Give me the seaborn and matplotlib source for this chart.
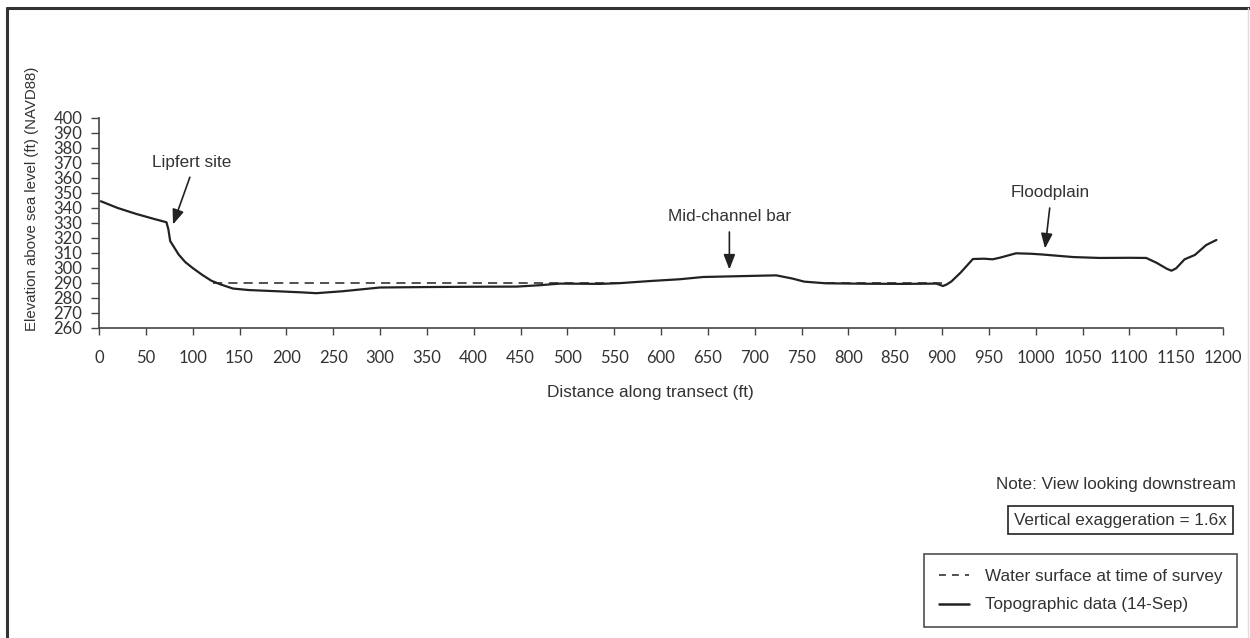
import seaborn as sns
import matplotlib.pyplot as plt
from matplotlib.lines import Line2D
import pandas as pd

# topographic survey (14-Sep), distance along transect (ft) / elevation (ft NAVD88)
topo_dist = [2, 20, 40, 60, 72, 74, 76, 80, 85, 92, 100, 110, 120, 130, 143, 160, 190, 215, 232,
             260, 300, 350, 400, 446, 470, 492, 535, 556, 588, 620, 645, 680, 723, 740, 753, 776,
             820, 860, 894, 901, 905, 910, 920, 933, 945, 954, 962, 979, 995, 1007, 1040, 1068,
             1100, 1118, 1129, 1140, 1145, 1150, 1159, 1170, 1182, 1193]
topo_elev = [344.5, 340, 336, 332.5, 330.5, 326, 318, 314, 309, 304, 300, 295.5, 291.5, 289, 286.3,
             285.3, 284.5, 283.8, 283.2, 284.5, 287, 287.3, 287.5, 287.6, 288.5, 289.6, 289.4, 289.9,
             291.3, 292.5, 294, 294.5, 295.1, 293, 290.9, 289.8, 289.5, 289.4, 289.6, 288, 289, 291,
             297, 306, 306.2, 305.8, 306.9, 309.8, 309.5, 309, 307.3, 306.7, 306.8, 306.7, 303.5,
             299.5, 298.2, 299.8, 305.8, 308.7, 315.3, 318.7]

# water surface at time of survey, two wetted reaches
water_dist = [122, 555, 776, 900]
water_elev = [290, 290, 290, 290]
water_seg = ['a', 'a', 'b', 'b']

x_ticks = list(range(0, 1201, 50))
y_ticks = list(range(260, 401, 10))

topo = pd.DataFrame({'dist': topo_dist, 'elev': topo_elev})
water = pd.DataFrame({'dist': water_dist, 'elev': water_elev, 'seg': water_seg})

sns.set_style('ticks')
plt.rcParams['font.family'] = ['Liberation Sans', 'DejaVu Sans']
txt = '#333333'
ink = '#222222'
fs = 12.3

fig = plt.figure(figsize=(12.5, 6.38), dpi=100)
ax = fig.add_axes([99 / 1250, 1 - 328 / 638, 1124 / 1250, 210 / 638])

sns.lineplot(data=water, x='dist', y='elev', units='seg', estimator=None, sort=False,
             color=ink, lw=1.1, linestyle=(0, (6, 4)), ax=ax)
sns.lineplot(data=topo, x='dist', y='elev', estimator=None, sort=False,
             color=ink, lw=1.6, ax=ax)

ax.set_xlim(0, 1200)
ax.set_ylim(260, 400)
ax.set_xticks(x_ticks)
ax.set_yticks(y_ticks)
for lab in ax.get_xticklabels() + ax.get_yticklabels():
    lab.set_fontfamily('Lato')
    lab.set_fontsize(12)
    lab.set_color(txt)
ax.tick_params(axis='x', length=5, width=1, color='#444444', pad=11)
ax.tick_params(axis='y', length=6, width=1, color='#444444', pad=6)
sns.despine(ax=ax)
for s in ('left', 'bottom'):
    ax.spines[s].set_color('#444444')
    ax.spines[s].set_linewidth(1.2)

ax.set_xlabel('Distance along transect (ft)', fontsize=12.4, color=txt)
ax.set_ylabel('Elevation above sea level (ft) (NAVD88)', fontsize=10.8, color=txt)
ax.xaxis.label.set_va('center')
ax.yaxis.label.set_va('center')
ax.xaxis.set_label_coords((650 - 99) / 1124, (328 - 393) / 210)
ax.yaxis.set_label_coords((32 - 99) / 1124, (328 - 199) / 210)

arrow = dict(arrowstyle='-|>,head_length=0.9,head_width=0.35', color=ink, lw=1.2,
             shrinkA=0, shrinkB=0)
ax.text(99, 370.5, 'Lipfert site', fontsize=fs, color=txt, ha='center', va='center')
ax.annotate('', xy=(79, 329), xytext=(97, 360.5), arrowprops=arrow)
ax.text(673, 334.5, 'Mid-channel bar', fontsize=fs, color=txt, ha='center', va='center')
ax.annotate('', xy=(673, 299), xytext=(673, 324), arrowprops=arrow)
ax.text(1015, 350, 'Floodplain', fontsize=fs, color=txt, ha='center', va='center')
ax.annotate('', xy=(1010, 313), xytext=(1015, 340), arrowprops=arrow)

fig.text(1236 / 1250, 1 - 485 / 638, 'Note: View looking downstream', fontsize=fs,
         color=txt, ha='right', va='center')
fig.text(1227 / 1250, 1 - 520 / 638, 'Vertical exaggeration = 1.6x', fontsize=fs,
         color=txt, ha='right', va='center',
         bbox=dict(boxstyle='square,pad=0.38', fc='white', ec=ink, lw=1.2))

handles = [Line2D([], [], color=ink, lw=1.1, linestyle=(0, (4.5, 4))),
           Line2D([], [], color=ink, lw=1.8)]
leg = fig.legend(handles, ['Water surface at time of survey', 'Topographic data (14-Sep)'],
                 loc='lower right', bbox_to_anchor=(1237 / 1250, 1 - 627 / 638),
                 fontsize=fs, frameon=True, fancybox=False, handlelength=1.8,
                 handletextpad=0.9, borderpad=0.85, labelspacing=0.8, borderaxespad=0)
leg.get_frame().set_edgecolor(ink)
leg.get_frame().set_linewidth(1.2)
for t in leg.get_texts():
    t.set_color(txt)

# page frame
for xs, ys, c, w in [([7, 1250], [8, 8], '#333333', 2.2),
                     ([7, 7], [8, 638], '#333333', 2.2),
                     ([1248, 1248], [8, 638], '#dddddd', 1.0)]:
    fig.add_artist(Line2D([x / 1250 for x in xs], [1 - y / 638 for y in ys],
                          transform=fig.transFigure, color=c, lw=w))

fig.savefig('out.png', dpi=100)
